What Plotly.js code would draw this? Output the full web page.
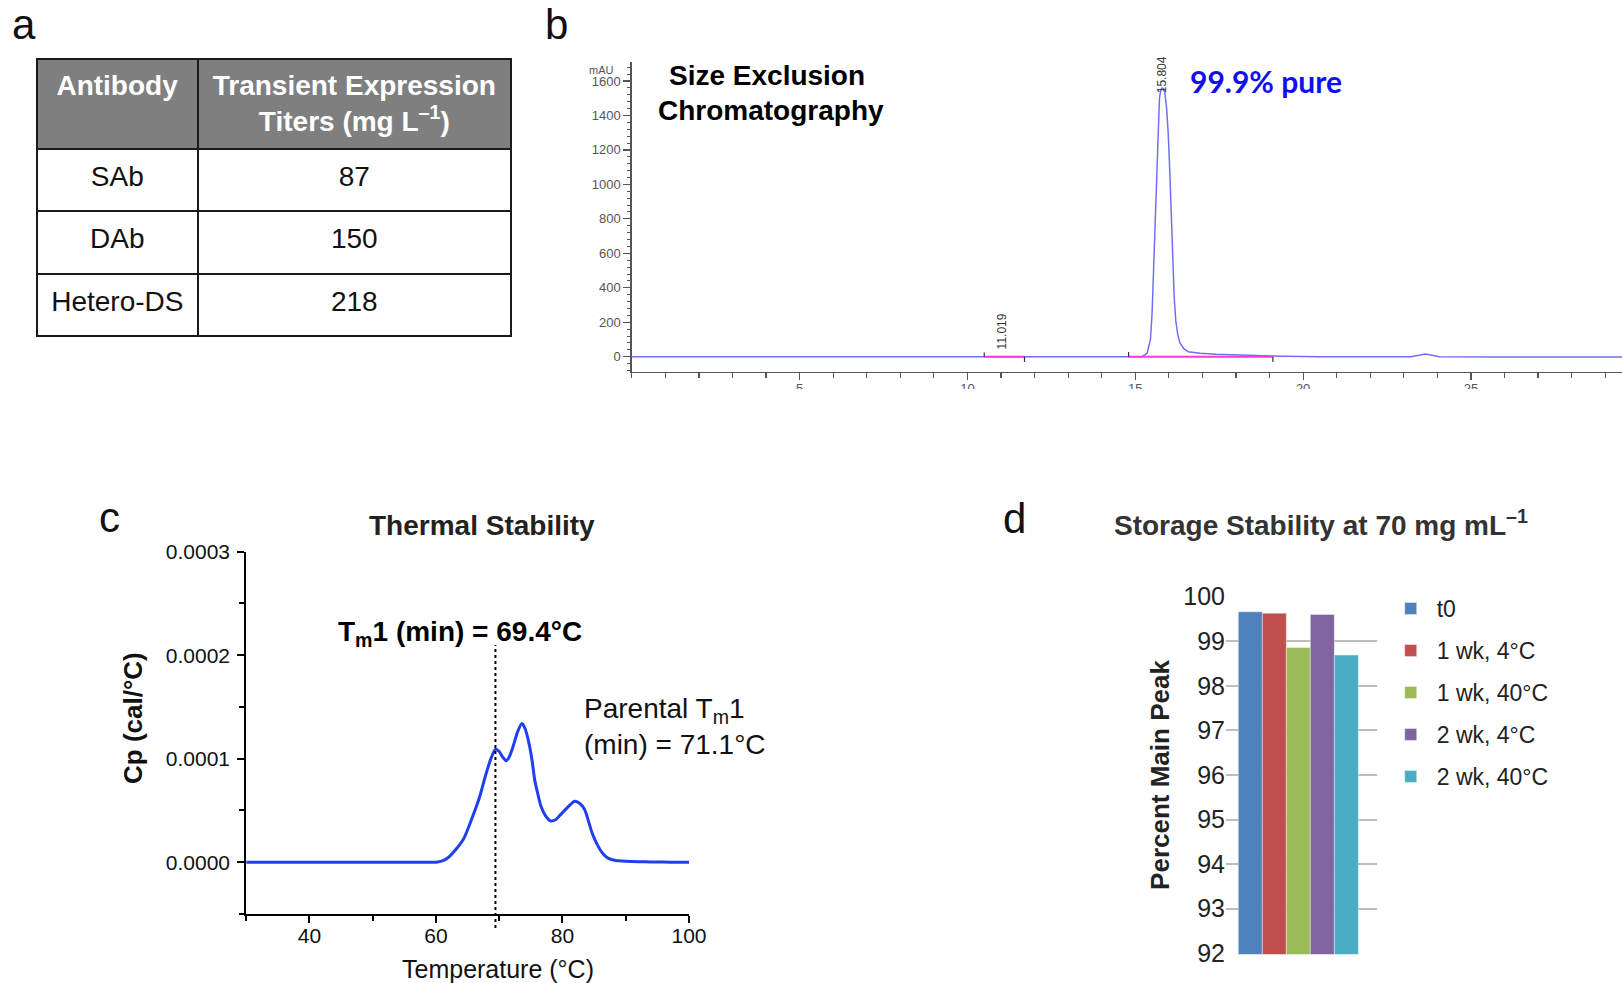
<!DOCTYPE html>
<html><head><meta charset="utf-8">
<script src="https://cdn.plot.ly/plotly-3.0.1.min.js"></script>
<style>html,body{margin:0;padding:0;background:#fff}</style>
</head><body><div id="chart" style="width:1622px;height:983px"></div>
<script>
const W = 1622, H = 983;
const px = p => p / W, py = p => 1 - p / H;
const FONT = 'Liberation Sans, Arial, Helvetica, sans-serif';

// ---------- a: expression titers table ----------
const tableHeaderLine1 = ['Antibody', 'Transient Expression'];
const tableHeaderLine2 = ['', 'Titers (mg L<sup>–1</sup>)'];
const antibodies = ['SAb', 'DAb', 'Hetero-DS'];
const titers = [87, 150, 218];

// ---------- b: size exclusion chromatogram ----------
const secTime = [0, 8.6, 9.5, 10.5, 11.8, 13, 14.9, 15.2, 15.35, 15.45, 15.5, 15.54, 15.59, 15.64, 15.68, 15.72, 15.76, 15.80, 15.84, 15.88, 15.93, 15.98, 16.03, 16.07, 16.11, 16.16, 16.21, 16.27, 16.33, 16.45, 16.58, 16.75, 16.93, 17.4, 17.92, 18.9, 19.5, 20.5, 23.2, 23.45, 23.64, 23.85, 24.05, 25.7, 29.5];
const secMAU  = [0, 0, -2, -2, -2, -2, -1, 0, 20, 97, 250, 484, 800, 1064, 1300, 1500, 1550, 1560, 1555, 1530, 1450, 1300, 1064, 820, 560, 340, 200, 125, 80, 45, 29, 24, 20, 14, 10, 5, 2, 0, 0, 8, 15, 8, 0, -1, -1];
const secBaseX = [10.5, 11.7, null, 14.8, 19.1];
const secBaseY = [0, 0, null, 0, 0];
const secMarkX = [10.5, 10.5, null, 11.7, 11.7, null, 14.8, 14.8, null, 19.1, 19.1];
const secMarkY = [0, 25, null, 0, -30, null, 0, 27, null, 0, -30];
const secPeakTimes = [11.019, 15.804];
const secPeakLabelY = [145, 1635];
const secXTicks = [5, 10, 15, 20, 25];
const secYTicks = [0, 200, 400, 600, 800, 1000, 1200, 1400, 1600];

// ---------- c: DSC thermogram ----------
const dscT  = [30, 35, 40, 45, 50, 55, 58, 60, 61.3, 62.2, 63.1, 64.4, 65.6, 66.9, 67.8, 68.8, 69.4, 70.0, 70.5, 71.1, 71.6, 72.2, 72.9, 73.6, 74.1, 74.7, 75.2, 75.6, 76.1, 76.6, 77.3, 78.1, 78.9, 79.7, 80.8, 81.9, 82.7, 83.5, 84.1, 84.7, 85.5, 86.3, 87.2, 88.2, 90, 92, 94, 96, 98, 100];
const dscCp = [0, 0, 0, 0, 0, 0, 0, 0, 0.000002, 0.000006, 0.000012, 0.000023, 0.000041, 0.000063, 0.000083, 0.000102, 0.000109, 0.000107, 0.000102, 0.000098, 0.000102, 0.000112, 0.000126, 0.000134, 0.000129, 0.000115, 0.000098, 0.000080, 0.000066, 0.000054, 0.000045, 0.000040, 0.000041, 0.000046, 0.000053, 0.000059, 0.000057, 0.000051, 0.000040, 0.000028, 0.000017, 0.000009, 0.000004, 0.000002, 0.000001, 0.0000005, 0.0000003, 0.0000002, 0, 0];
const tm1 = 69.4;
const parentalTm1 = 71.1;
const dscXTicks = [40, 60, 80, 100];
const dscYTicks = [0, 0.0001, 0.0002, 0.0003];

// ---------- d: storage stability ----------
const storageCategory = ['Hetero-DS'];
const storageSeries = ['t0', '1 wk, 4°C', '1 wk, 40°C', '2 wk, 4°C', '2 wk, 40°C'];
const storageValues = [99.66, 99.63, 98.86, 99.60, 98.69];
const storageColors = ['#4F81BD', '#C0504D', '#9BBB59', '#8064A2', '#4BACC6'];
const storageYTicks = [92, 93, 94, 95, 96, 97, 98, 99, 100];

const traces = [];
const CLEAR = 'rgba(0,0,0,0)';
const tableX = [px(37), px(511)];
const colW = [160.6, 313.4];
const blankCells = [antibodies.map(() => ''), titers.map(() => '')];
const blankHeader = ['', ''];

// table frame (fills and rules)
traces.push({
  type: 'table', domain: {x: tableX, y: [py(400), py(59)]}, columnwidth: colW,
  header: {values: blankHeader, height: 90, fill: {color: '#7f7f7f'}, line: {color: '#1a1a1a', width: 2}},
  cells: {values: blankCells, height: 62.3, fill: {color: '#ffffff'}, line: {color: '#1a1a1a', width: 2}}
});
// header text, first and second line (each centred in its column)
[[tableHeaderLine1, 62], [tableHeaderLine2, 93]].forEach(([vals, top]) => {
  traces.push({
    type: 'table', domain: {x: tableX, y: [py(top + 345), py(top)]}, columnwidth: colW,
    header: {values: vals.map(t => t ? '<b>' + t + '</b>' : ''), height: 90, align: 'center',
             fill: {color: CLEAR}, line: {color: CLEAR, width: 0}, font: {family: FONT, size: 28, color: '#ffffff'}},
    cells: {values: blankCells, height: 62.3, fill: {color: CLEAR}, line: {color: CLEAR, width: 0}}
  });
});
// body text
traces.push({
  type: 'table', domain: {x: tableX, y: [py(409), py(67)]}, columnwidth: colW,
  header: {values: blankHeader, height: 90, fill: {color: CLEAR}, line: {color: CLEAR, width: 0}},
  cells: {values: [antibodies, titers], height: 62.3, align: 'center',
          fill: {color: CLEAR}, line: {color: CLEAR, width: 0}, font: {family: FONT, size: 28, color: '#111111'}}
});

// chromatogram
traces.push({type: 'scatter', mode: 'lines', x: secTime, y: secMAU, xaxis: 'x', yaxis: 'y',
  line: {color: '#6f6ff5', width: 1.5}, showlegend: false, hoverinfo: 'skip'});
traces.push({type: 'scatter', mode: 'lines', x: secBaseX, y: secBaseY, xaxis: 'x', yaxis: 'y',
  line: {color: '#ff3ad4', width: 2}, showlegend: false, hoverinfo: 'skip'});
traces.push({type: 'scatter', mode: 'lines', x: secMarkX, y: secMarkY, xaxis: 'x', yaxis: 'y',
  line: {color: '#333333', width: 1.2}, showlegend: false, hoverinfo: 'skip'});

// DSC
traces.push({type: 'scatter', mode: 'lines', x: dscT, y: dscCp, xaxis: 'x2', yaxis: 'y2',
  line: {color: '#1f3ff0', width: 3, shape: 'spline', smoothing: 0.6}, showlegend: false, hoverinfo: 'skip'});

// storage bars
storageSeries.forEach((name, i) => {
  traces.push({type: 'bar', x: storageCategory, y: [storageValues[i]], name: name,
    xaxis: 'x3', yaxis: 'y3', legendgroup: name,
    marker: {color: storageColors[i], line: {color: 'rgba(255,255,255,0.5)', width: 0.8}}});
});

function ann(o) {
  return Object.assign({xref: 'paper', yref: 'paper', showarrow: false, xanchor: 'center', yanchor: 'middle'}, o);
}

const annotations = [
  ann({text: 'a', x: px(23.5), y: py(24.5), font: {family: FONT, size: 42, color: '#111'}}),
  ann({text: 'b', x: px(556), y: py(24.5), font: {family: FONT, size: 42, color: '#111'}}),
  ann({text: 'c', x: px(109.7), y: py(517), font: {family: FONT, size: 42, color: '#111'}}),
  ann({text: 'd', x: px(1014.8), y: py(518), font: {family: FONT, size: 42, color: '#111'}}),
  ann({text: '<b>Size Exclusion</b>', x: px(767), y: py(76), font: {family: FONT, size: 28, color: '#000'}}),
  ann({text: '<b>Chromatography</b>', x: px(771), y: py(110.5), font: {family: FONT, size: 28, color: '#000'}}),
  ann({text: '<b>99.9% pure</b>', x: px(1266.3), y: py(81), font: {family: 'Lato, Open Sans, sans-serif', size: 30, color: '#1010ee'}}),
  ann({text: 'mAU', x: px(601), y: py(70), font: {family: FONT, size: 11, color: '#555'}}),
  ann({text: secPeakTimes[0].toFixed(3), x: secPeakTimes[0], y: secPeakLabelY[0], xref: 'x', yref: 'y',
       textangle: -90, font: {family: FONT, size: 12, color: '#333'}}),
  ann({text: secPeakTimes[1].toFixed(3), x: secPeakTimes[1], y: secPeakLabelY[1], xref: 'x', yref: 'y',
       textangle: -90, font: {family: FONT, size: 12, color: '#333'}}),
  ann({text: '<b>Thermal Stability</b>', x: px(481.6), y: py(525.5), font: {family: FONT, size: 28, color: '#222'}}),
  ann({text: '<b>T<sub>m</sub>1 (min) = ' + tm1.toFixed(1) + '°C</b>', x: px(460.5), y: py(633), 
       font: {family: FONT, size: 28, color: '#000'}}),
  ann({text: 'Parental T<sub>m</sub>1<br>(min) = ' + parentalTm1.toFixed(1) + '°C', x: px(582), y: py(726),
       xanchor: 'left', align: 'left', font: {family: FONT, size: 28, color: '#111'}}),
  ann({text: 'Temperature (°C)', x: px(497.6), y: py(969), font: {family: FONT, size: 25, color: '#111'}}),
  ann({text: '<b>Cp (cal/°C)</b>', x: px(132.5), y: py(718.5), textangle: -90, font: {family: FONT, size: 26, color: '#111'}}),
  ann({text: '<b>Storage Stability at 70 mg mL<sup>–1</sup></b>', x: px(1321), y: py(522.5),
       font: {family: FONT, size: 28, color: '#333'}})
];

const shapes = [
  {type: 'line', xref: 'x2', yref: 'paper', x0: tm1, x1: tm1, y0: py(928), y1: py(645),
   line: {color: '#000', width: 2, dash: 'dot'}},
  // crop mask below chromatogram tick labels (reference image is cut there)
  {type: 'rect', xref: 'paper', yref: 'paper', layer: 'above', x0: px(580), x1: 1, y0: py(460), y1: py(389),
   fillcolor: '#ffffff', line: {width: 0}}
];

const layout = {
  width: W, height: H,
  margin: {l: 0, r: 0, t: 0, b: 0},
  paper_bgcolor: '#ffffff', plot_bgcolor: CLEAR,
  font: {family: FONT, color: '#111'},
  showlegend: true,
  barmode: 'group', bargap: 0.205, bargroupgap: 0,
  legend: {x: px(1384.7), xanchor: 'left', y: py(587), yanchor: 'top', itemwidth: 42,
           tracegroupgap: 9.1, traceorder: 'grouped', bgcolor: CLEAR,
           font: {family: FONT, size: 23, color: '#222'}},
  xaxis: {domain: [px(631.8), 1], range: [0, 29.5], anchor: 'y',
          showline: true, linecolor: '#555', linewidth: 1.5, showgrid: false, zeroline: false,
          tickmode: 'array', tickvals: secXTicks, ticks: 'outside', ticklen: 7, tickwidth: 1.2, tickcolor: '#555',
          minor: {dtick: 1, tick0: 0, ticks: 'outside', ticklen: 5, tickwidth: 1.2, tickcolor: '#555'},
          ticklabelstandoff: -3,
          tickfont: {size: 13, color: '#555'}},
  yaxis: {domain: [py(371.7), py(61.7)], range: [-87, 1712], anchor: 'x',
          showline: true, linecolor: '#555', linewidth: 1.5, showgrid: false, zeroline: false,
          tickmode: 'array', tickvals: secYTicks, ticks: 'outside', ticklen: 7, tickwidth: 1.2, tickcolor: '#555',
          minor: {dtick: 40, tick0: 0, ticks: 'outside', ticklen: 3, tickwidth: 1, tickcolor: '#555'},
          tickfont: {size: 13, color: '#555'}},
  xaxis2: {domain: [px(246.2), px(689)], range: [30, 100], anchor: 'y2',
           showline: true, linecolor: '#000', linewidth: 2, showgrid: false, zeroline: false,
           tickmode: 'array', tickvals: dscXTicks, ticks: 'outside', ticklen: 7, tickwidth: 2, tickcolor: '#000',
           minor: {dtick: 10, tick0: 30, ticks: 'outside', ticklen: 5, tickwidth: 2, tickcolor: '#000'},
           ticklabelstandoff: -5,
           tickfont: {size: 21, color: '#111'}},
  yaxis2: {domain: [py(914), py(551.7)], range: [-0.00005, 0.0003], anchor: 'x2',
           showline: true, linecolor: '#000', linewidth: 2, showgrid: false, zeroline: false,
           tickmode: 'array', tickvals: dscYTicks, tickformat: '.4f', ticks: 'outside', ticklen: 7, tickwidth: 2, tickcolor: '#000',
           minor: {dtick: 0.00005, tick0: 0, ticks: 'outside', ticklen: 5, tickwidth: 2, tickcolor: '#000'},
           ticklabelstandoff: 3,
           tickfont: {size: 21, color: '#111'}},
  xaxis3: {domain: [px(1226), px(1377)], range: [-0.479, 0.521], anchor: 'y3', type: 'category',
           showline: false, showgrid: false, zeroline: false, showticklabels: false, ticks: ''},
  yaxis3: {domain: [py(954.2), py(595.8)], range: [91.98, 100.02], anchor: 'x3',
           showline: false, zeroline: false, showgrid: true, gridcolor: '#bdbdbd', gridwidth: 2,
           tickmode: 'array', tickvals: storageYTicks, ticks: '',
           tickfont: {size: 25, color: '#222'},
           title: {text: '<b>Percent Main Peak</b>', font: {size: 26, color: '#222'}, standoff: 6}},
  annotations: annotations,
  shapes: shapes
};

Plotly.newPlot('chart', traces, layout, {displayModeBar: false, staticPlot: true});
</script>
</body></html>
